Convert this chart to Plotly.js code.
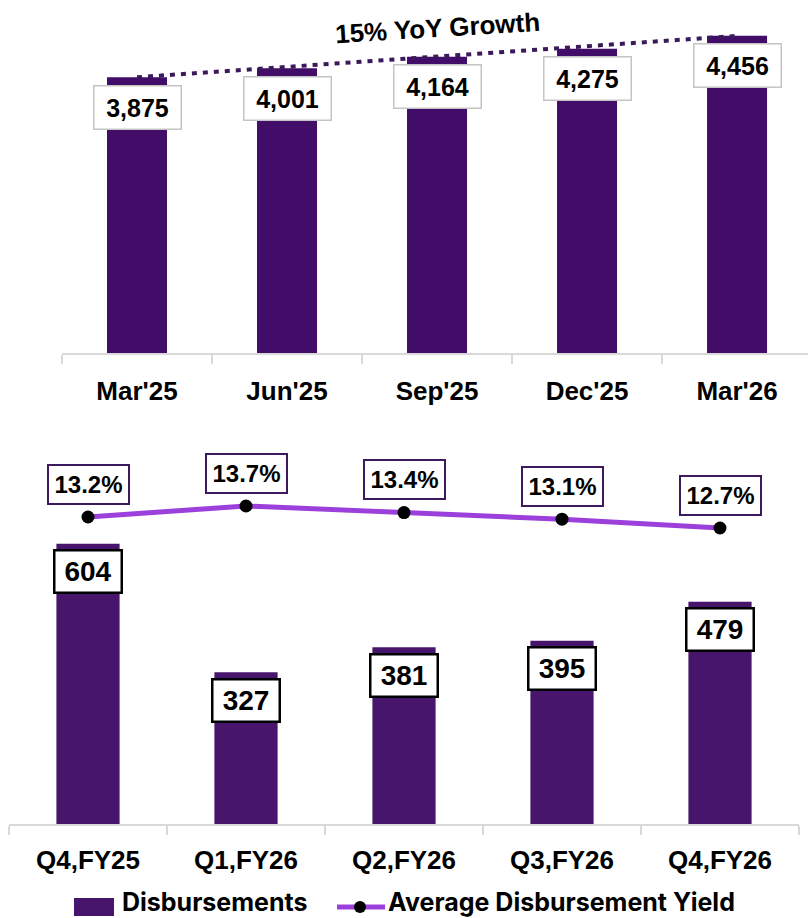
<!DOCTYPE html>
<html>
<head>
<meta charset="utf-8">
<script src="https://cdn.plot.ly/plotly-3.0.1.min.js"></script>
<style>html,body{margin:0;padding:0;background:#fff;}#chart{width:808px;height:918px;}</style>
</head>
<body>
<div id="chart"></div>
<script>
// ---- Data ----
const periods = ["Mar'25", "Jun'25", "Sep'25", "Dec'25", "Mar'26"];
const aum = [3875, 4001, 4164, 4275, 4456];
const growthText = "15% YoY Growth";

const quarters = ["Q4,FY25", "Q1,FY26", "Q2,FY26", "Q3,FY26", "Q4,FY26"];
const disbursements = [604, 327, 381, 395, 479];
const yields = [13.2, 13.7, 13.4, 13.1, 12.7];

const legendNames = ["Disbursements", "Average Disbursement Yield"];

// ---- Styles ----
const W = 808, H = 918;
const barTopColor = '#420d68';
const barBottomColor = '#47156b';
const lineColor = '#9b40da';
const trendColor = '#3b1a5c';
const numFont = 'Liberation Sans, Arial, Helvetica, sans-serif';
const legFont = 'Inter, Roboto, Liberation Sans, sans-serif';
const fmt = v => v.toLocaleString('en-US');

const traces = [
  {
    type: 'bar', x: periods, y: aum, xaxis: 'x', yaxis: 'y',
    width: 0.4, marker: {color: barTopColor},
    hoverinfo: 'x+y', name: 'AUM'
  },
  {
    type: 'scatter', mode: 'lines', xaxis: 'x', yaxis: 'y',
    x: [periods[0], periods[periods.length - 1]],
    y: [aum[0], aum[aum.length - 1]],
    line: {color: trendColor, width: 4, dash: '5px,6px'}, hoverinfo: 'skip', name: 'trend'
  },
  {
    type: 'bar', x: quarters, y: disbursements, xaxis: 'x2', yaxis: 'y2',
    width: 0.4, marker: {color: barBottomColor}, name: legendNames[0]
  },
  {
    type: 'scatter', mode: 'lines+markers', x: quarters, y: yields, xaxis: 'x2', yaxis: 'y3',
    line: {color: lineColor, width: 5}, marker: {color: '#000', size: 13}, name: legendNames[1]
  }
];

const annotations = [];
periods.forEach((p, i) => {
  annotations.push({
    x: p, y: aum[i], xref: 'x', yref: 'y', yshift: -30, showarrow: false,
    text: fmt(aum[i]), font: {family: numFont, size: 25, color: '#000', weight: 'bold'},
    bgcolor: '#fff', bordercolor: '#c4c4c4', borderwidth: 1.5, borderpad: 6,
    width: 74, height: 30
  });
});
quarters.forEach((q, i) => {
  annotations.push({
    x: q, y: disbursements[i], xref: 'x2', yref: 'y2', yshift: -28, showarrow: false,
    text: String(disbursements[i]), font: {family: numFont, size: 28, color: '#000', weight: 'bold'},
    bgcolor: '#fff', bordercolor: '#000', borderwidth: 2.5, borderpad: 4,
    width: 57, height: 32
  });
  annotations.push({
    x: q, y: yields[i], xref: 'x2', yref: 'y3', yshift: 33, showarrow: false,
    text: yields[i].toFixed(1) + '%', font: {family: numFont, size: 24, color: '#000', weight: 'bold'},
    bgcolor: '#fff', bordercolor: '#3d1a5e', borderwidth: 2, borderpad: 4,
    width: 71, height: 29
  });
});
annotations.push({
  x: 437 / W, y: 1 - 28 / H, xref: 'paper', yref: 'paper', xanchor: 'center', yanchor: 'middle',
  showarrow: false, text: growthText, textangle: -3.5,
  font: {family: numFont, size: 26, color: '#000', weight: 'bold'}
});
// custom legend text
annotations.push({
  x: 121 / W, y: 0, xref: 'paper', yref: 'paper', xanchor: 'left', yanchor: 'bottom',
  showarrow: false, borderpad: 0, text: legendNames[0],
  font: {family: legFont, size: 25, color: '#000', weight: 'bold'}
});
annotations.push({
  x: 387 / W, y: 0, xref: 'paper', yref: 'paper', xanchor: 'left', yanchor: 'bottom',
  showarrow: false, borderpad: 0, text: legendNames[1],
  font: {family: legFont, size: 25, color: '#000', weight: 'bold'}
});

const shapes = [
  {type: 'rect', xref: 'paper', yref: 'paper', x0: 74 / W, x1: 114 / W, y0: 1 - 916 / H, y1: 1 - 898 / H,
   fillcolor: barBottomColor, line: {width: 0}},
  {type: 'line', xref: 'paper', yref: 'paper', x0: 337 / W, x1: 385 / W, y0: 1 - 907 / H, y1: 1 - 907 / H,
   line: {color: lineColor, width: 5}},
  {type: 'circle', xref: 'paper', yref: 'paper', x0: 354 / W, x1: 366 / W, y0: 1 - 913 / H, y1: 1 - 901 / H,
   fillcolor: '#000', line: {width: 0}}
];

const xTickFont = {family: numFont, size: 26, color: '#000', weight: 'bold'};
const xCommon = {
  type: 'category', showline: true, linecolor: '#d9d9d9', linewidth: 2,
  ticks: 'outside', tickson: 'boundaries', ticklen: 9, tickwidth: 2, tickcolor: '#d9d9d9',
  showgrid: false, zeroline: false, tickfont: xTickFont, fixedrange: true
};
const yHidden = {visible: false, showgrid: false, zeroline: false, fixedrange: true};

const layout = {
  width: W, height: H, margin: {l: 0, r: 0, t: 0, b: 0},
  paper_bgcolor: '#fff', plot_bgcolor: 'rgba(0,0,0,0)', showlegend: false,
  xaxis: Object.assign({}, xCommon, {domain: [62 / W, 1], range: [-0.5, 4.473], anchor: 'y', ticklabelstandoff: 14}),
  yaxis: Object.assign({}, yHidden, {domain: [1 - 353 / H, 1], range: [0, 4960], anchor: 'x'}),
  xaxis2: Object.assign({}, xCommon, {domain: [9 / W, 799 / W], range: [-0.5, 4.5], anchor: 'y2', ticklabelstandoff: 12}),
  yaxis2: Object.assign({}, yHidden, {domain: [1 - 824 / H, 1 - 440 / H], range: [0, 827.6], anchor: 'x2'}),
  yaxis3: Object.assign({}, yHidden, {overlaying: 'y2', range: [-0.755, 16.7], anchor: 'x2', side: 'right'}),
  annotations: annotations,
  shapes: shapes
};

Plotly.newPlot('chart', traces, layout, {displayModeBar: false, staticPlot: true});
</script>
</body>
</html>
